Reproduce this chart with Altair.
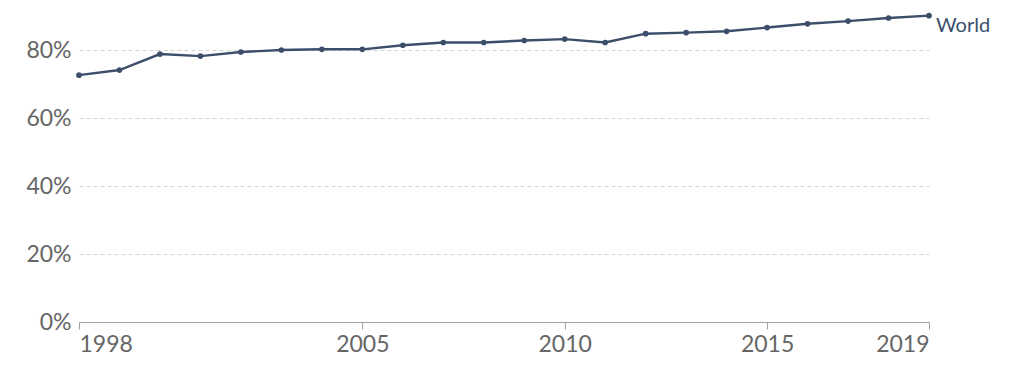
import altair as alt
import pandas as pd

years = list(range(1998, 2020))
values = [72.6, 74.1, 78.8, 78.2, 79.4, 80.0, 80.2, 80.2, 81.4, 82.2, 82.2, 82.8,
          83.2, 82.2, 84.8, 85.1, 85.5, 86.6, 87.7, 88.5, 89.4, 90.1]
entity = "World"
x_ticks = [1998, 2005, 2010, 2015, 2019]
y_ticks = [0, 20, 40, 60, 80]

df = pd.DataFrame({"year": years, "value": values, "entity": entity})
last = df.tail(1)

color = "#3d4e6b"
font = "Lato"

x = alt.X("year:Q",
          scale=alt.Scale(domain=[1998, 2019], nice=False, zero=False),
          axis=alt.Axis(values=x_ticks, format="d", title=None, grid=False,
                        domainColor="#a0a0a0", tickColor="#a0a0a0", tickSize=7,
                        labelFontSize=23, labelColor="#666666", labelFont=font,
                        labelPadding=4, labelFlush=True))
y = alt.Y("value:Q",
          scale=alt.Scale(domain=[0, 90], nice=False),
          axis=alt.Axis(values=y_ticks, labelExpr="datum.value + '%'", title=None,
                        domain=False, ticks=False, grid=True, gridColor="#d4d4d4",
                        gridOpacity=1, gridDash=[4, 3], labelFontSize=23,
                        labelColor="#666666", labelFont=font, labelPadding=8))

line = alt.Chart(df).mark_line(color=color, strokeWidth=2.4).encode(x=x, y=y)
pts = alt.Chart(df).mark_point(filled=True, color=color, size=32, opacity=1).encode(x=x, y=y)
lab = alt.Chart(last).mark_text(align="left", baseline="alphabetic", dx=7, dy=16,
                                fontSize=20, font=font, color=color).encode(
    x=x, y=y, text="entity:N")

chart = alt.layer(line, pts, lab).properties(
    width=850, height=306,
    background="white",
    autosize=alt.AutoSizeParams(type="none"),
    padding={"left": 79, "top": 16, "right": 94, "bottom": 46},
).configure_view(stroke=None, strokeWidth=0)

chart.save("out.html", embed_options={"renderer": "svg", "actions": False})
